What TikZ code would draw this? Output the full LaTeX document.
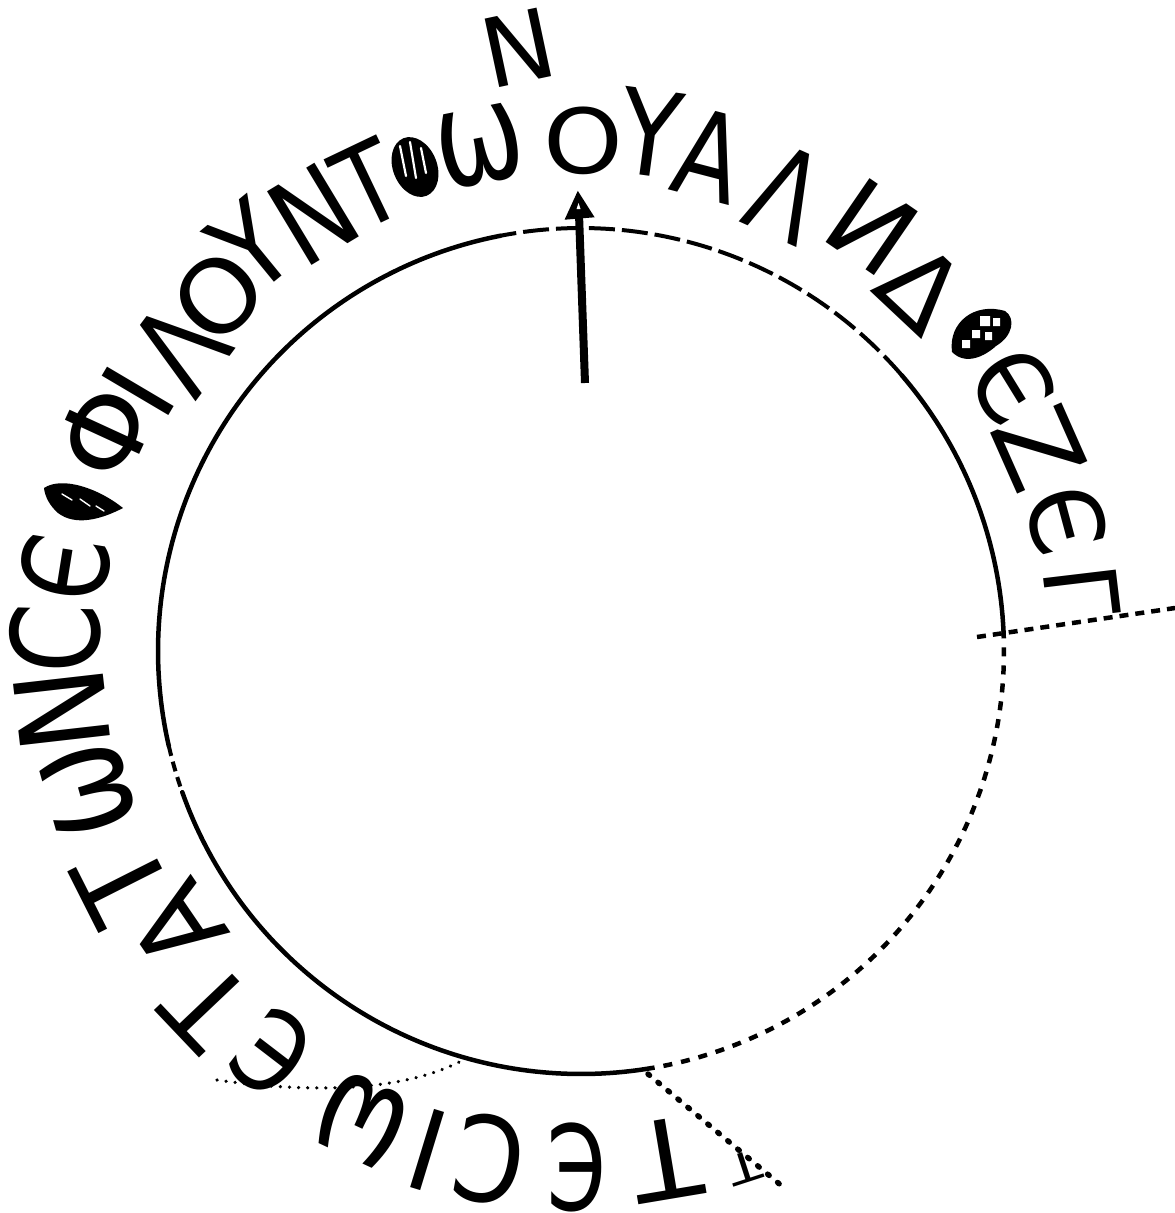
\documentclass[tikz,border=0pt]{standalone}
\usepackage{fontspec}
\usepackage{graphicx}
\newfontfamily\gk{DejaVu Sans}
\usetikzlibrary{arrows.meta}
\newcommand\G[3]{\scalebox{#1}[#2]{#3}}
\tikzset{
  ltr/.style={inner sep=0pt, outer sep=0pt, font=\gk\fontsize{118}{118}\selectfont},
  ring/.style={line width=4.5pt, line cap=round, line join=round},
  longdash/.style={line width=4pt, dash pattern=on 26pt off 7pt},
  shortdash/.style={line width=4.5pt, dash pattern=on 9pt off 9pt},
  dotline/.style={line width=3.5pt, line cap=round, dash pattern=on 0.1pt off 9pt},
  bigdot/.style={line width=5.5pt, line cap=round, dash pattern=on 2pt off 11pt}
}
\begin{document}
\begin{tikzpicture}[x=1pt,y=-1pt]
\useasboundingbox (0,0) rectangle (1175,1213);
\coordinate (c) at (581,651);
% circle pieces
\draw[ring] plot[domain=2.8:40.7, samples=40] ({581+423*cos(\x)},{651-423*sin(\x)});
\draw[longdash] plot[domain=40.7:101, samples=60] ({581+423*cos(\x)},{651-423*sin(\x)});
\draw[ring] plot[domain=101:193, samples=90] ({581+423*cos(\x)},{651-423*sin(\x)});
\draw[line width=4pt, dash pattern=on 10pt off 6pt] plot[domain=193:199.5, samples=8] ({581+423*cos(\x)},{651-423*sin(\x)});
\draw[ring] plot[domain=199.5:278.8, samples=80] ({581+423*cos(\x)},{651-423*sin(\x)});
\draw[shortdash] plot[domain=278.8:362.8, samples=80] ({581+423*cos(\x)},{651-423*sin(\x)});
% lines
\coordinate (r1) at (977,637); \coordinate (r2) at (1175,608);
\draw[line width=4.5pt, dash pattern=on 9pt off 7pt] (r1) -- (r2);
\coordinate (bl1) at (217,1080); \coordinate (bl2) at (463,1060);
\draw[dotline] (bl1) .. controls (300,1092) and (400,1094) .. (bl2);
\coordinate (br1) at (648,1074); \coordinate (br2) at (783,1187);
\draw[bigdot] (br1) -- (br2);
% north arrow
\coordinate (atail) at (585,383); \coordinate (aneck) at (579,214);
\draw[line width=8pt] (atail) -- (aneck);
\filldraw[line width=3pt, line join=miter] (578,194) -- (567,218) -- (592,216) -- cycle;
\fill[white] (578.5,203) -- (576.5,209) -- (580.5,209) -- cycle;
\node[rotate=12, inner sep=0pt, font=\gk\fontsize{96}{96}\selectfont] (north) at (518,48) {N};
% inscription, clockwise
\node[ltr,rotate=-162] (t0) at (745,1168) {\G{0.45}{0.35}{Τ}};
\node[ltr,rotate=-170.5] (t1) at (666,1160) {\G{0.95}{0.93}{Τ}};
\node[ltr,rotate=-180] (t2) at (577,1167) {\G{0.72}{1.0}{Є}};
\node[ltr,rotate=-190] (t3) at (490,1160) {\G{0.85}{1.0}{Ϲ}};
\node[ltr,rotate=-197] (t4) at (428,1150) {\G{0.9}{0.95}{Ι}};
\node[ltr,rotate=-205] (t5) at (362,1120) {\G{0.9}{1.2}{ω}};
\node[ltr,rotate=-217.5] (t6) at (272,1053) {\G{0.78}{0.95}{Є}};
\node[ltr,rotate=-226.5] (t7) at (207,1006) {\G{0.9}{0.95}{Τ}};
\node[ltr,rotate=-235.7] (t8) at (177,927) {\G{0.9}{0.95}{Α}};
\node[ltr,rotate=-243.2] (t9) at (122,883) {\G{0.95}{1.0}{Τ}};
\node[ltr,rotate=-254.3] (t10) at (88,790) {\G{0.95}{1.25}{ω}};
\node[ltr,rotate=-263.5] (t11) at (62,710) {\G{0.95}{1.05}{Ν}};
\node[ltr,rotate=88.6] (t12) at (55,638) {\G{0.85}{1.03}{Ϲ}};
\node[ltr,rotate=80.9] (t13) at (65,568) {\G{0.78}{1.0}{Є}};
\node[ltr,rotate=65.3] (t14) at (105,432) {\G{0.95}{0.95}{Φ}};
\node[ltr,rotate=59.4] (t15) at (138,391) {\G{0.9}{0.9}{Ι}};
\node[ltr,rotate=53.2] (t16) at (180,348) {\G{0.85}{1.05}{Λ}};
\node[ltr,rotate=45.8] (t17) at (218,296) {\G{0.9}{0.85}{Ο}};
\node[ltr,rotate=39.3] (t18) at (251,246) {\G{0.85}{1.0}{Υ}};
\node[ltr,rotate=31.1] (t19) at (313,214) {\G{0.85}{1.0}{Ν}};
\node[ltr,rotate=25.5] (t20) at (368,184) {\G{0.8}{0.95}{Τ}};
\node[ltr,rotate=11.3] (t21) at (480,146) {\G{0.9}{1.15}{ω}};
\node[ltr,rotate=0] (t22) at (583,141) {\G{0.86}{0.76}{Ο}};
\node[ltr,rotate=-7.7] (t23) at (651,133) {\G{0.85}{1.0}{Υ}};
\node[ltr,rotate=-14.6] (t24) at (710,155) {\G{0.8}{1.02}{Α}};
\node[ltr,rotate=-24.1] (t25) at (786,193) {\G{0.8}{1.05}{Λ}};
\node[ltr,rotate=-34.5] (t26) at (872,227) {\G{0.9}{0.9}{И}};
\node[ltr,rotate=-43.2] (t27) at (922,288) {\G{0.9}{0.88}{Δ}};
\node[ltr,rotate=-58.4] (t28) at (1013,385) {\G{0.8}{0.85}{Є}};
\node[ltr,rotate=-66.1] (t29) at (1039,448) {\G{0.95}{0.9}{Ζ}};
\node[ltr,rotate=-74.9] (t30) at (1066,520) {\G{0.8}{0.85}{Є}};
\node[ltr,rotate=-83.2] (t31) at (1082,591) {\G{0.8}{0.85}{Γ}};
% ornaments
\fill (44,488) .. controls (62,476) and (98,488) .. (123,508)
      .. controls (100,520) and (75,526) .. (58,513)
      .. controls (50,506) and (45,497) .. cycle;
\draw[white, line width=1.4pt, line cap=round] (62,494) -- (72,500) (80,499) -- (90,506) (96,506) -- (104,511);
\fill[rotate around={22:(415,167)}] (415,167) ellipse (22 and 31);
\draw[white, line width=2.2pt, line cap=round] (400,146) -- (406,176) (410,142) -- (416,178) (421,148) -- (426,173);
\fill (952,352) .. controls (948,322) and (975,302) .. (1005,311)
      .. controls (1016,318) and (1013,336) .. (996,346)
      .. controls (985,356) and (966,366) .. cycle;
\fill[white] (980,316) rectangle (990,326) (993,318) rectangle (1000,326) (972,330) rectangle (980,338) (985,332) rectangle (992,340) (962,340) rectangle (970,348);
\end{tikzpicture}
\end{document}
